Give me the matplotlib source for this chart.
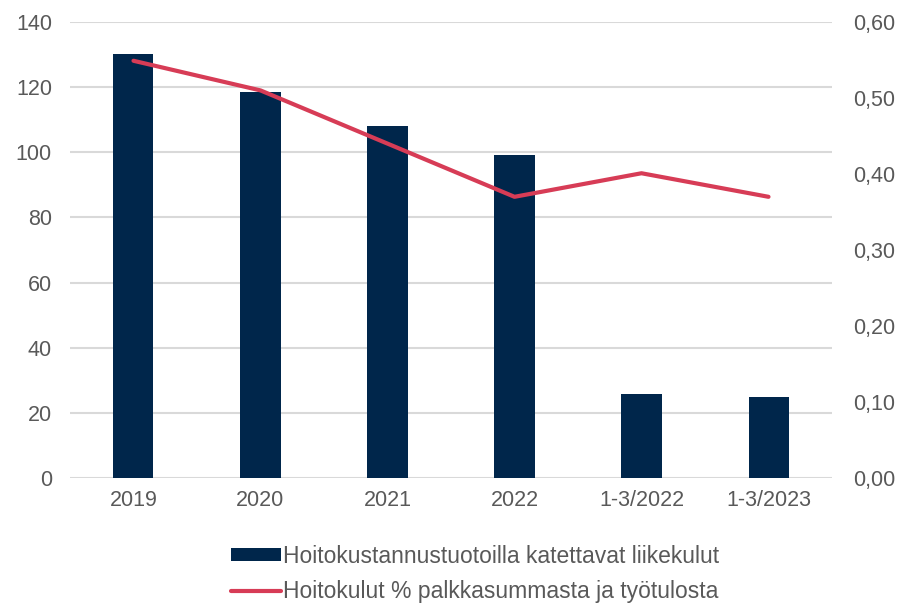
import numpy as np
import matplotlib.pyplot as plt
from matplotlib.ticker import FuncFormatter

plt.rcParams['font.family'] = ['Liberation Sans', 'DejaVu Sans']

# Data
categories = ['2019', '2020', '2021', '2022', '1-3/2022', '1-3/2023']
liikekulut = [130.2, 118.6, 108.2, 99.2, 25.7, 24.9]
hoitokulut_pct = [0.549, 0.510, 0.440, 0.370, 0.401, 0.370]

bar_color = '#00264b'
line_color = '#d73c56'
text_color = '#595959'
grid_color = '#d9d9d9'

fig = plt.figure(figsize=(9.02, 6.03), dpi=100)
ax = fig.add_axes([0.0776, 0.2073, 0.8448, 0.7562])
ax2 = ax.twinx()

x = np.arange(len(categories))
bars = ax.bar(x, liikekulut, width=0.315, color=bar_color, zorder=2,
              label='Hoitokustannustuotoilla katettavat liikekulut')
line, = ax2.plot(x, hoitokulut_pct, color=line_color, linewidth=3.0,
                 solid_capstyle='round', label='Hoitokulut % palkkasummasta ja työtulosta')

ax.set_xlim(-0.5, len(categories) - 0.5)
ax.set_ylim(0, 140)
ax.set_yticks(np.arange(0, 141, 20))
ax2.set_ylim(0, 0.6)
ax2.set_yticks(np.arange(0, 0.61, 0.1))
ax2.yaxis.set_major_formatter(FuncFormatter(lambda v, p: f'{v:.2f}'.replace('.', ',')))

ax.set_xticks(x)
ax.set_xticklabels(categories)
ax.grid(axis='y', color=grid_color, linewidth=1.5, zorder=0)
ax.set_axisbelow(True)

for a in (ax, ax2):
    for s in a.spines.values():
        s.set_visible(False)
    a.tick_params(length=0, labelsize=15.5, labelcolor=text_color)
ax.tick_params(axis='y', pad=13)
ax.tick_params(axis='x', pad=9)
ax2.tick_params(axis='y', pad=15)

fig.legend(handles=[bars, line], loc='center', bbox_to_anchor=(475 / 902, 1 - 574 / 603),
           ncol=1, frameon=False, fontsize=16.5, labelcolor=text_color,
           handlelength=2.2, handleheight=0.5, handletextpad=0.1, labelspacing=0.55)

fig.savefig('out.png', dpi=100)
